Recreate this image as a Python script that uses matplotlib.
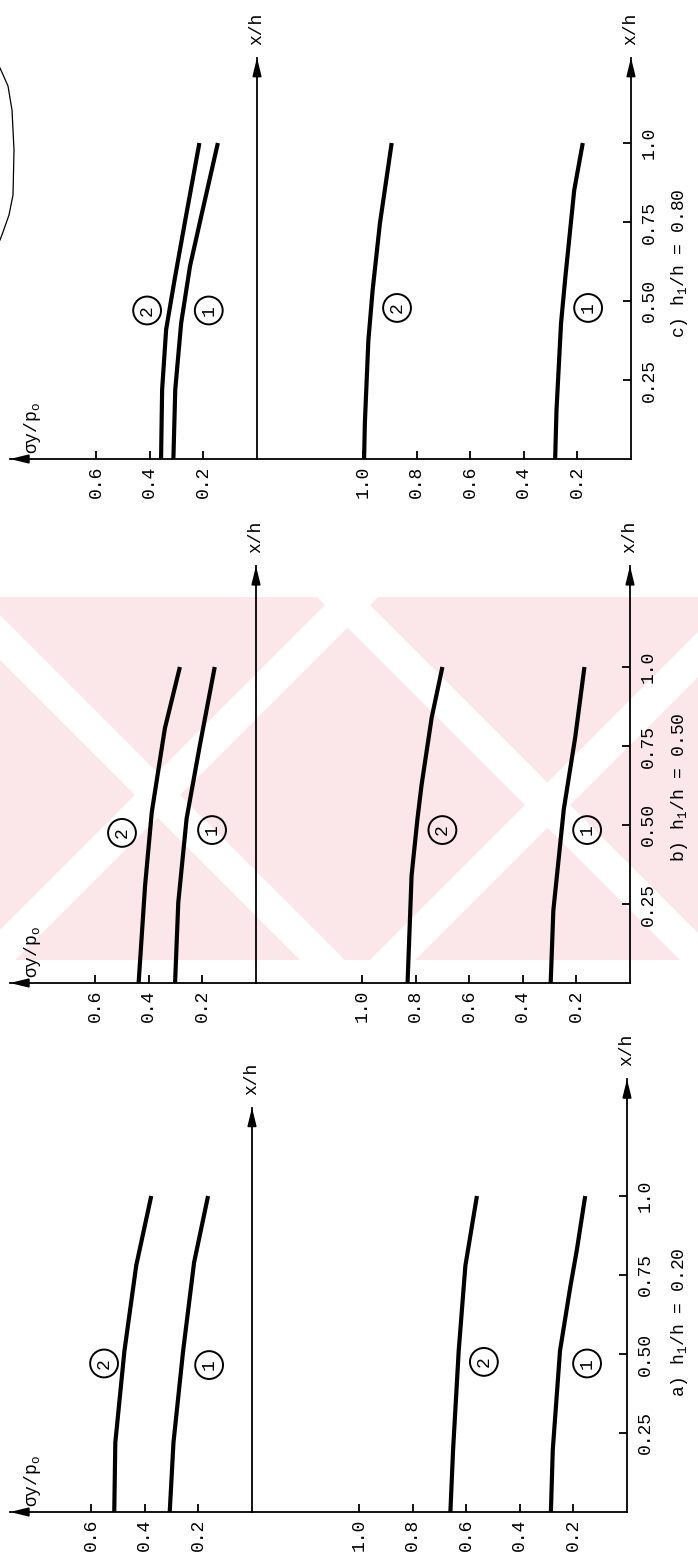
import matplotlib
matplotlib.use("Agg")
import matplotlib.pyplot as plt
from matplotlib.lines import Line2D
from matplotlib.patches import Polygon, Rectangle

plt.rcParams['font.family'] = ['Liberation Mono', 'DejaVu Sans Mono']
plt.rcParams['mathtext.fontset'] = 'custom'
plt.rcParams['mathtext.rm'] = 'Liberation Mono'
plt.rcParams['mathtext.it'] = 'Liberation Mono'

# ---------------------------------------------------------------- data
# each curve: stations x/h and stress sigma_y/p0

# a) h1/h = 0.20
a_top_c1_x = [0.0, 0.22, 0.51, 0.79, 1.0]
a_top_c1 = [0.307, 0.293, 0.257, 0.216, 0.164]
a_top_c2_x = [0.0, 0.22, 0.51, 0.78, 1.0]
a_top_c2 = [0.514, 0.510, 0.476, 0.432, 0.376]
a_bot_c1_x = [0.0, 0.196, 0.51, 0.71, 0.83, 1.0]
a_bot_c1 = [0.284, 0.277, 0.250, 0.212, 0.187, 0.156]
a_bot_c2_x = [0.0, 0.196, 0.51, 0.78, 1.0]
a_bot_c2 = [0.659, 0.649, 0.628, 0.603, 0.560]

# b) h1/h = 0.50
b_top_c1_x = [0.0, 0.255, 0.52, 0.75, 1.0]
b_top_c1 = [0.302, 0.290, 0.259, 0.210, 0.154]
b_top_c2_x = [0.0, 0.307, 0.54, 0.806, 1.0]
b_top_c2 = [0.438, 0.414, 0.389, 0.340, 0.284]
b_bot_c1_x = [0.0, 0.23, 0.55, 0.78, 1.0]
b_bot_c1 = [0.296, 0.286, 0.247, 0.204, 0.170]
b_bot_c2_x = [0.0, 0.34, 0.52, 0.625, 0.84, 1.0]
b_bot_c2 = [0.830, 0.815, 0.793, 0.778, 0.740, 0.700]

# c) h1/h = 0.80
c_top_c1_x = [0.0, 0.22, 0.43, 0.61, 0.765, 1.0]
c_top_c1 = [0.312, 0.305, 0.283, 0.250, 0.209, 0.146]
c_top_c2_x = [0.0, 0.22, 0.41, 0.565, 0.745, 1.0]
c_top_c2 = [0.358, 0.354, 0.339, 0.308, 0.270, 0.215]
c_bot_c1_x = [0.0, 0.155, 0.43, 0.575, 0.85, 1.0]
c_bot_c1 = [0.283, 0.278, 0.261, 0.245, 0.212, 0.180]
c_bot_c2_x = [0.0, 0.115, 0.375, 0.535, 0.745, 1.0]
c_bot_c2 = [0.996, 0.993, 0.980, 0.964, 0.937, 0.893]

captions = ["a) h$_{\\mathrm{1}}$/h = 0.20",
            "b) h$_{\\mathrm{1}}$/h = 0.50",
            "c) h$_{\\mathrm{1}}$/h = 0.80"]

top_sig_ticks = [0.2, 0.4, 0.6]
bot_sig_ticks = [0.2, 0.4, 0.6, 0.8, 1.0]
xh_ticks = [0.25, 0.50, 0.75, 1.0]
xh_ticklabels = ["0.25", "0.50", "0.75", "1.0"]

# circled curve numbers: (sigma, x/h) for curve 1 and curve 2
a_top_tags = [(0.16, 0.465), (0.552, 0.47)]
a_bot_tags = [(0.149, 0.47), (0.534, 0.475)]
b_top_tags = [(0.164, 0.484), (0.50, 0.475)]
b_bot_tags = [(0.16, 0.484), (0.70, 0.484)]
c_top_tags = [(0.18, 0.47), (0.41, 0.47)]
c_bot_tags = [(0.16, 0.478), (0.873, 0.478)]

# ---------------------------------------------------------------- layout
W, H, DPI = 698, 1559, 100
SIG_PX = 268.0   # pixels per unit sigma/p0
XH_PX = 316.0    # pixels per unit x/h
LEFT_PX = 10.0

panels = [
    dict(base=1512, zu=252, zl=627, tmax=1.28, bmax=1.37, cap_y=0.60,
         top=[(a_top_c1_x, a_top_c1), (a_top_c2_x, a_top_c2)],
         bot=[(a_bot_c1_x, a_bot_c1), (a_bot_c2_x, a_bot_c2)],
         ttags=a_top_tags, btags=a_bot_tags, cap=captions[0]),
    dict(base=983, zu=256, zl=630, tmax=1.32, bmax=1.32, cap_y=0.62,
         top=[(b_top_c1_x, b_top_c1), (b_top_c2_x, b_top_c2)],
         bot=[(b_bot_c1_x, b_bot_c1), (b_bot_c2_x, b_bot_c2)],
         ttags=b_top_tags, btags=b_bot_tags, cap=captions[1]),
    dict(base=459, zu=257, zl=631, tmax=1.27, bmax=1.27, cap_y=0.62,
         top=[(c_top_c1_x, c_top_c1), (c_top_c2_x, c_top_c2)],
         bot=[(c_bot_c1_x, c_bot_c1), (c_bot_c2_x, c_bot_c2)],
         ttags=c_top_tags, btags=c_bot_tags, cap=captions[2]),
]

fig = plt.figure(figsize=(W / DPI, H / DPI), dpi=DPI)
fig.patch.set_facecolor('white')


def fx(px):
    return px / W


def fy(py):
    return 1.0 - py / H


# ---------------------------------------------------------------- watermark
PINK = '#fbe6ea'
band_top, band_bot = 597, 960
band = Rectangle((fx(0), fy(band_bot)), 1.0, (band_bot - band_top) / H,
                 transform=fig.transFigure, facecolor=PINK, edgecolor='none',
                 zorder=-5)
fig.add_artist(band)


def stripe(c0, c1, kind):
    # diagonal band between two parallel lines, in pixel space
    if kind == '/':      # x + y = c
        pts = [(c0 - band_top, band_top), (c1 - band_top, band_top),
               (c1 - band_bot, band_bot), (c0 - band_bot, band_bot)]
    else:                # x - y = c
        pts = [(c0 + band_top, band_top), (c1 + band_top, band_top),
               (c1 + band_bot, band_bot), (c0 + band_bot, band_bot)]
    return [(fx(x), fy(y)) for x, y in pts]


for c0, c1, kind in [(930, 975, '/'), (1330, 1375, '/'), (-660, -615, '\\'),
                     (-280, -235, '\\')]:
    p = Polygon(stripe(c0, c1, kind), closed=True, transform=fig.transFigure,
                facecolor='white', edgecolor='none', zorder=-4)
    fig.add_artist(p)
    p.set_clip_path(band)

# pencil mark at the top left corner
mark_x = [0, 8, 12, 14, 13, 9, 3, 0]
mark_y = [68, 86, 110, 150, 195, 215, 232, 240]
fig.add_artist(Line2D([fx(v) for v in mark_x], [fy(v) for v in mark_y],
                      transform=fig.transFigure, color='k', lw=0.9))

# ---------------------------------------------------------------- axes
LW_AX = 1.3
LW_CURVE = 3.0
TICK_FS = 13


def make_axes(left_px, right_px, base_px, top_xh):
    rect = [fx(left_px), fy(base_px), (right_px - left_px) / W,
            top_xh * XH_PX / H]
    ax = fig.add_axes(rect)
    ax.set_xlim((right_px - left_px) / SIG_PX, 0)
    ax.set_ylim(0, top_xh)
    ax.patch.set_alpha(0)
    for s in ('top', 'left'):
        ax.spines[s].set_visible(False)
    for s in ('bottom', 'right'):
        ax.spines[s].set_linewidth(LW_AX)
    ax.tick_params(axis='x', direction='in', length=6, width=1.3,
                   labelrotation=90, labelsize=TICK_FS, pad=5)
    # x/h arrow
    ax.annotate('', xy=(0, top_xh), xytext=(0, top_xh - 0.06),
                xycoords='data', annotation_clip=False,
                arrowprops=dict(arrowstyle='-|>,head_length=0.9,head_width=0.22',
                                color='k', lw=LW_AX, shrinkA=0, shrinkB=0,
                                mutation_scale=12))
    ax.text(0, top_xh + 0.04, 'x/h', rotation=90, ha='center', va='bottom',
            fontsize=TICK_FS)
    return ax


def tag(ax, s, x, y):
    ax.text(x, y, s, rotation=90, ha='center', va='center', fontsize=13,
            bbox=dict(boxstyle='circle,pad=0.3', fc='none', ec='k', lw=1.4))


def draw_curves(ax, curves):
    for cx, cs in curves:
        ax.plot(cs, cx, color='k', lw=LW_CURVE, solid_capstyle='butt',
                solid_joinstyle='round')


for p in panels:
    # upper graph
    axt = make_axes(LEFT_PX, p['zu'], p['base'], p['tmax'])
    axt.set_xticks(top_sig_ticks)
    axt.set_xticklabels([f"{v:.1f}" for v in top_sig_ticks])
    axt.tick_params(axis='y', left=False, right=False, labelleft=False)
    draw_curves(axt, p['top'])
    for (sx, sy), s in zip(p['ttags'], ['1', '2']):
        tag(axt, s, sx, sy)
    sig_left = (p['zu'] - LEFT_PX) / SIG_PX
    axt.annotate('', xy=(sig_left, 0), xytext=(sig_left - 0.05, 0),
                 xycoords='data', annotation_clip=False,
                 arrowprops=dict(arrowstyle='-|>,head_length=0.9,head_width=0.22',
                                 color='k', lw=LW_AX, shrinkA=0, shrinkB=0,
                                 mutation_scale=12))
    axt.text(sig_left - 0.085, 0.015, '\u03c3y/p$_{\\mathrm{o}}$', rotation=90,
             ha='center', va='bottom', fontsize=TICK_FS)

    # lower graph
    axb = make_axes(p['zu'], p['zl'], p['base'], p['bmax'])
    axb.set_xticks(bot_sig_ticks)
    axb.set_xticklabels([f"{v:.1f}" for v in bot_sig_ticks])
    axb.yaxis.tick_right()
    axb.set_yticks(xh_ticks)
    axb.set_yticklabels(xh_ticklabels)
    axb.tick_params(axis='y', direction='in', length=6, width=1.3,
                    labelrotation=90, labelsize=TICK_FS, pad=7)
    for lab in axb.get_yticklabels():
        lab.set_verticalalignment('center')
    draw_curves(axb, p['bot'])
    for (sx, sy), s in zip(p['btags'], ['1', '2']):
        tag(axb, s, sx, sy)

    # caption
    fig.text(fx(680), fy(p['base'] - p['cap_y'] * XH_PX), p['cap'],
             rotation=90, ha='center', va='center', fontsize=13)

fig.savefig('out.png', dpi=DPI, facecolor='white')
